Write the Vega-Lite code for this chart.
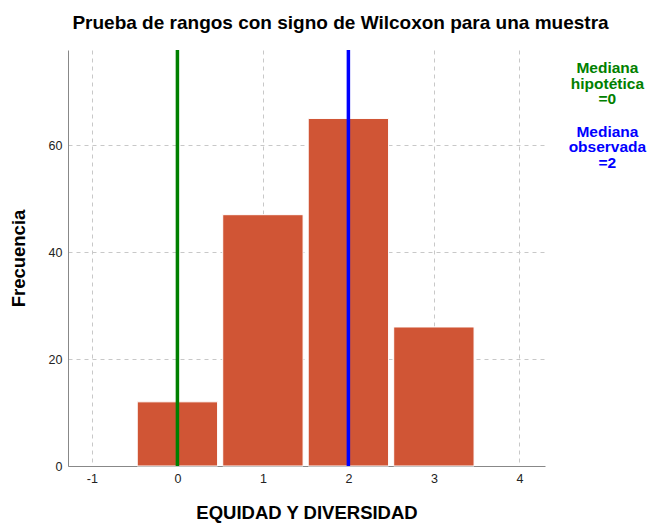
{
  "$schema": "https://vega.github.io/schema/vega-lite/v6.json",
  "width": 477,
  "height": 416,
  "autosize": {"type": "none"},
  "padding": {"left": 68, "top": 50, "right": 107, "bottom": 58},
  "background": "white",
  "config": {
    "font": "Liberation Sans",
    "view": {"stroke": null},
    "axis": {"labelFont": "Liberation Sans", "titleFont": "Liberation Sans"}
  },
  "title": {
    "text": "Prueba de rangos con signo de Wilcoxon para una muestra",
    "fontSize": 19,
    "fontWeight": "bold",
    "color": "#000000",
    "anchor": "middle",
    "dx": 34,
    "offset": 15
  },
  "datasets": {
    "bars": [
      {"valor": 0, "lo": -0.47, "hi": 0.47, "frecuencia": 12},
      {"valor": 1, "lo": 0.53, "hi": 1.47, "frecuencia": 47},
      {"valor": 2, "lo": 1.53, "hi": 2.47, "frecuencia": 65},
      {"valor": 3, "lo": 2.53, "hi": 3.47, "frecuencia": 26}
    ],
    "medianas": [
      {"x": 0, "tipo": "hipotetica"},
      {"x": 2, "tipo": "observada"}
    ],
    "notas": [
      {"x": 5.03, "y": 74.4, "texto": ["Mediana", "hipotética", "=0"], "tipo": "hipotetica"},
      {"x": 5.03, "y": 62.5, "texto": ["Mediana", "observada", "=2"], "tipo": "observada"}
    ]
  },
  "layer": [
    {
      "data": {"name": "bars"},
      "mark": {"type": "rect", "color": "#d05535", "stroke": "white", "strokeWidth": 1},
      "encoding": {
        "x": {
          "field": "lo", "type": "quantitative",
          "scale": {"domain": [-1.28, 4.3], "nice": false, "zero": false},
          "axis": {
            "values": [-1, 0, 1, 2, 3, 4],
            "format": "d",
            "labelExpr": "replace(datum.label, '\u2212', '-')",
            "title": "EQUIDAD Y DIVERSIDAD",
            "titleFontSize": 18.5, "titleFontWeight": "bold", "titleColor": "#000000",
            "titlePadding": 19,
            "labelFontSize": 12.5, "labelColor": "#222222", "labelPadding": 6,
            "domainColor": "#888888", "ticks": false,
            "grid": true, "gridDash": [4, 4], "gridColor": "#c8c8c8"
          }
        },
        "x2": {"field": "hi"},
        "y": {
          "field": "frecuencia", "type": "quantitative",
          "scale": {"domain": [0, 77.8], "nice": false},
          "axis": {
            "values": [0, 20, 40, 60],
            "title": "Frecuencia",
            "titleFontSize": 18.5, "titleFontWeight": "bold", "titleColor": "#000000",
            "titlePadding": 20,
            "labelFontSize": 12.5, "labelColor": "#222222", "labelPadding": 6,
            "domainColor": "#888888", "ticks": false,
            "grid": true, "gridDash": [4, 4], "gridColor": "#c8c8c8"
          }
        },
        "y2": {"datum": 0}
      }
    },
    {
      "data": {"name": "medianas"},
      "mark": {"type": "rule", "strokeWidth": 3.5},
      "encoding": {
        "x": {"field": "x", "type": "quantitative"},
        "color": {
          "field": "tipo", "type": "nominal",
          "scale": {"domain": ["hipotetica", "observada"], "range": ["#008000", "#0000ff"]},
          "legend": null
        }
      }
    },
    {
      "data": {"name": "notas"},
      "mark": {"type": "text", "fontSize": 15.5, "fontWeight": "bold", "align": "center", "baseline": "middle", "lineHeight": 15.5, "clip": false},
      "encoding": {
        "x": {"field": "x", "type": "quantitative"},
        "y": {"field": "y", "type": "quantitative"},
        "text": {"field": "texto"},
        "color": {"field": "tipo", "type": "nominal", "legend": null}
      }
    }
  ]
}
